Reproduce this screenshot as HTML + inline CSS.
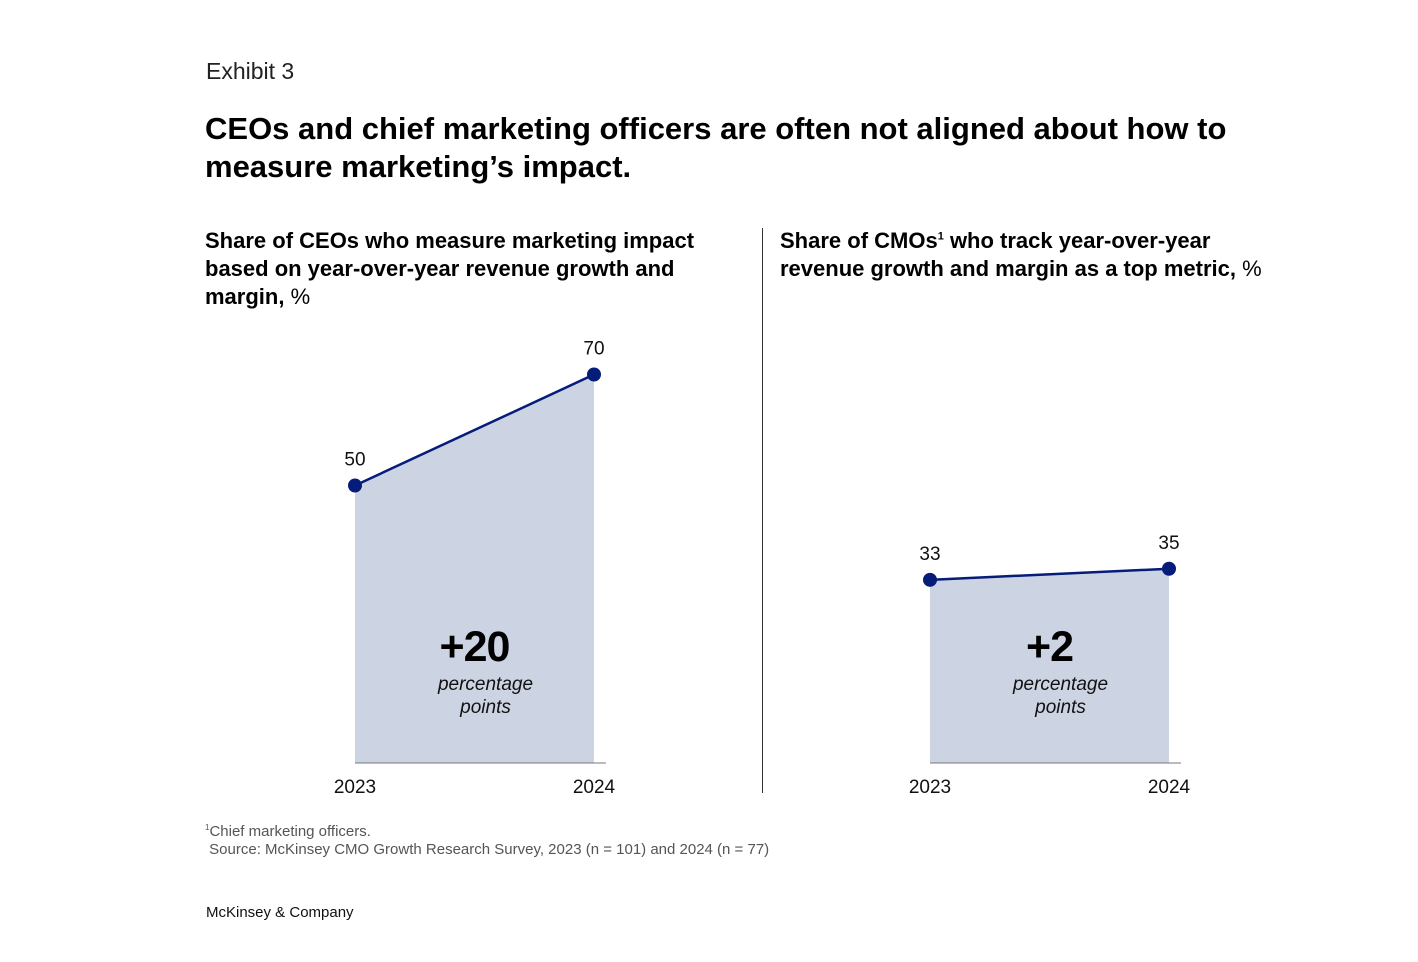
<!DOCTYPE html>
<html><head><meta charset="utf-8"><style>
body{margin:0;width:1418px;height:962px;background:#fff;font-family:"Liberation Sans",sans-serif;color:#000;position:relative;overflow:hidden}
.a{position:absolute;margin:0}
sup{line-height:0;vertical-align:super}
</style></head><body>
<div class="a" style="left:206px;top:58px;font-size:23px;color:#222">Exhibit 3</div>
<div class="a" style="left:205px;top:110px;font-size:31px;font-weight:bold;line-height:38px;width:1100px">CEOs and chief marketing officers are often not aligned about how to measure marketing’s impact.</div>
<div class="a" style="left:205px;top:227px;font-size:22px;font-weight:bold;line-height:28px;width:540px">Share of CEOs who measure marketing impact based on year-over-year revenue growth and margin, <span style="font-weight:normal">%</span></div>
<div class="a" style="left:780px;top:227px;font-size:22px;font-weight:bold;line-height:28px;width:520px">Share of CMOs<sup style="font-size:11px">1</sup> who track year-over-year revenue growth and margin as a top metric, <span style="font-weight:normal">%</span></div>
<div class="a" style="left:762px;top:228px;width:1px;height:565px;background:#333"></div>
<svg class="a" style="left:0;top:0" width="1418" height="962" id="svg"></svg>
<div class="a" style="left:205px;top:823px;font-size:15px;color:#555;line-height:18px"><sup style="font-size:8px">1</sup>Chief marketing officers.<br>&nbsp;Source: McKinsey CMO Growth Research Survey, 2023 (n = 101) and 2024 (n = 77)</div>
<div class="a" style="left:206px;top:904px;font-size:15px;color:#111">McKinsey &amp; Company</div>
<script>
const years=["2023","2024"];
const ceoValues=[50,70];
const cmoValues=[33,35];
const ns="http://www.w3.org/2000/svg";
const svg=document.getElementById('svg');
const base=763, k=5.55;
function y(v){return base-v*k;}
function mk(t,a,txt){const e=document.createElementNS(ns,t);for(const n in a)e.setAttribute(n,a[n]);if(txt!==undefined)e.textContent=txt;svg.appendChild(e);return e;}
function panel(x0,x1,vals,label,name){
  const xs=[x0,x1];
  const area=mk('polygon',{points:`${x0},${base} ${x0},${y(vals[0])} ${x1},${y(vals[1])} ${x1},${base}`,fill:'#ccd3e3'});
  
  
  const ax=mk('line',{x1:x0,x2:x1+12,y1:base,y2:base,stroke:'#777','stroke-width':1});
  
  
  const ln=mk('line',{x1:x0,y1:y(vals[0]),x2:x1,y2:y(vals[1]),stroke:'#051c7a','stroke-width':2.5});
  
  
  vals.forEach((v,i)=>{
    const c=mk('circle',{cx:xs[i],cy:y(v),r:7,fill:'#051c7a'});
    
    
    const t=mk('text',{x:xs[i],y:y(v)-20,'text-anchor':'middle','font-size':19,fill:'#111'},v);
    
    
    const yl=mk('text',{x:xs[i],y:793,'text-anchor':'middle','font-size':19,fill:'#111'},years[i]);
    
    
  });
  const cx=(x0+x1)/2;
  const d=vals[1]-vals[0];
  const big=mk('text',{x:cx,y:661,'text-anchor':'middle','font-size':43,'font-weight':'bold',fill:'#000','letter-spacing':'-1'},(d>=0?'+':'')+d);
  
  
  const p1=mk('text',{x:cx+11,y:690,'text-anchor':'middle','font-size':19,'font-style':'italic',fill:'#111'},'percentage');
  
  
  const p2=mk('text',{x:cx+11,y:713,'text-anchor':'middle','font-size':19,'font-style':'italic',fill:'#111'},'points');
  
  
}
panel(355,594,ceoValues,'ceo');
panel(930,1169,cmoValues,'cmo');
</script>
</body></html>
